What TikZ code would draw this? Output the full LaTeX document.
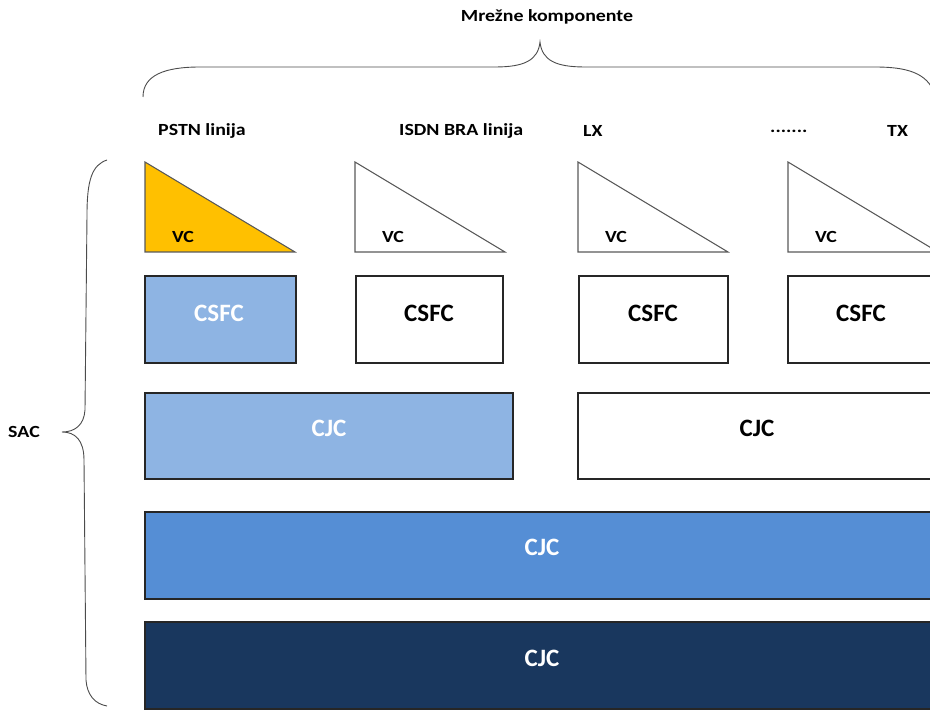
\documentclass[tikz,border=0pt]{standalone}
\usepackage{fontspec}
\setmainfont{Carlito}
\definecolor{gold}{HTML}{FFC000}
\definecolor{lblue}{HTML}{8EB4E3}
\definecolor{mblue}{HTML}{558ED5}
\definecolor{dblue}{HTML}{19375E}
\definecolor{edge}{HTML}{262626}
\tikzset{
  blk/.style={draw=edge, line width=1.3pt},
  tri/.style={draw=black!65, line width=1.1pt},
  lbl/.style={font=\bfseries\fontsize{25}{28}\selectfont, inner sep=0pt},
  small/.style={font=\bfseries\fontsize{17}{19}\selectfont, inner sep=0pt, xscale=1.17},
  brace/.style={draw=black!70, line width=0.9pt}
}
\begin{document}
\begin{tikzpicture}[x=1pt,y=-1pt]
\useasboundingbox (0,0) rectangle (930,711);
\clip (0,0) rectangle (930,711);
% top brace
\draw[brace] (143,97) .. controls (143,75) and (165,67) .. (200,67) -- (495,67)
  .. controls (525,67) and (538,60) .. (540,42)
  .. controls (542,60) and (555,67) .. (585,67) -- (875,67)
  .. controls (905,67) and (928,72) .. (935,95);
\node[small] (mk) at (547,17) {Mrežne komponente};
% left brace
\draw[brace] (107,160) .. controls (92,165) and (87,180) .. (87,215) -- (85,410)
  .. controls (84,425) and (75,432) .. (62,432)
  .. controls (75,432) and (84,440) .. (84,460) -- (86,680)
  .. controls (87,695) and (95,704) .. (107,706);
\node[small] (sac) at (24,432) {SAC};
% column labels
\node[small, anchor=west] (l1) at (158,131) {PSTN linija};
\node[small, anchor=west] (l2) at (399,131) {ISDN BRA linija};
\node[small, anchor=west] (l3) at (583,131) {LX};
\node[small, anchor=west] (l4) at (770,131) {.......};
\node[small, anchor=west] (l5) at (887,131) {TX};
% triangles
\filldraw[tri, fill=gold] (145,162) -- (145,252) -- (295,252) -- cycle;
\draw[tri] (355,162) -- (355,252) -- (505,252) -- cycle;
\draw[tri] (578,162) -- (578,252) -- (728,252) -- cycle;
\draw[tri] (788,162) -- (788,252) -- (938,252) -- cycle;
\node[small] (vc1) at (183,237) {VC};
\node[small] (vc2) at (393,237) {VC};
\node[small] (vc3) at (616,237) {VC};
\node[small] (vc4) at (826,237) {VC};
% CSFC row
\filldraw[blk, fill=lblue] (145,276) rectangle (296,363);
\draw[blk] (356,276) rectangle (503,363);
\draw[blk] (579,276) rectangle (728,363);
\draw[blk] (788,276) rectangle (940,363);
\node[lbl, text=white] (c1) at (219,313) {CSFC};
\node[lbl] (c2) at (429,313) {CSFC};
\node[lbl] (c3) at (653,313) {CSFC};
\node[lbl] (c4) at (861,313) {CSFC};
% CJC rows
\filldraw[blk, fill=lblue] (145,393) rectangle (513,479);
\draw[blk] (578,393) rectangle (940,479);
\node[lbl, text=white] (j1) at (329,428) {CJC};
\node[lbl] (j2) at (757,428) {CJC};
\filldraw[blk, fill=mblue] (145,512) rectangle (940,599);
\node[lbl, text=white] (j3) at (542,547) {CJC};
\filldraw[blk, fill=dblue] (145,622) rectangle (940,709);
\node[lbl, text=white] (j4) at (542,658) {CJC};
\end{tikzpicture}
\end{document}
